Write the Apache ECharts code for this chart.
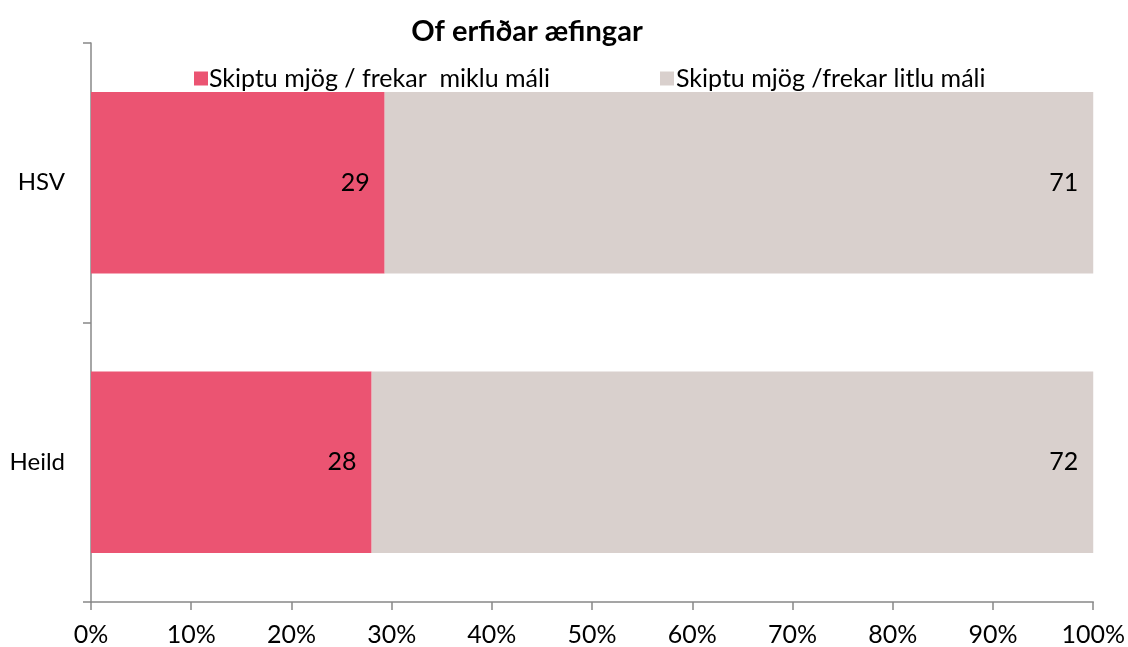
<!DOCTYPE html>
<html>
<head>
<meta charset="utf-8">
<script src="https://cdn.jsdelivr.net/npm/echarts@6/dist/echarts.min.js"></script>
<style>
  html, body { margin: 0; padding: 0; background: #fff; }
  #main { width: 1128px; height: 647px; }
</style>
</head>
<body>
<div id="main"></div>
<script>
const categories = ['HSV', 'Heild'];
const seriesNames = ['Skiptu mjög / frekar  miklu máli', 'Skiptu mjög /frekar litlu máli'];
const miklu = [29.3, 28.0];
const litlu = [70.7, 72.0];

const font = 'Lato, "Open Sans", sans-serif';
const chart = echarts.init(document.getElementById('main'));

const label = {
  show: true,
  position: 'insideRight',
  distance: 15,
  color: '#000',
  fontSize: 25,
  fontFamily: font,
  formatter: p => Math.round(p.value)
};

chart.setOption({
  animation: false,
  title: {
    text: 'Of erfiðar æfingar',
    left: 522,
    textAlign: 'center',
    top: 12,
    textStyle: { fontSize: 29, fontWeight: 'bold', fontFamily: font, color: '#000' }
  },
  legend: [
    {
      data: [seriesNames[0]],
      left: 189, top: 61,
      itemWidth: 14, itemHeight: 14, icon: 'rect',
      textStyle: { fontSize: 25, fontFamily: font, color: '#000', padding: [0, 0, 0, -4] }
    },
    {
      data: [seriesNames[1]],
      left: 655, top: 61,
      itemWidth: 14, itemHeight: 14, icon: 'rect',
      textStyle: { fontSize: 25, fontFamily: font, color: '#000', padding: [0, 0, 0, -3] }
    }
  ],
  grid: { left: 91, right: 34, top: 43, bottom: 45, containLabel: false },
  xAxis: {
    type: 'value',
    min: 0, max: 100, interval: 10,
    axisLine: { show: true, lineStyle: { color: '#888', width: 1.5 } },
    axisTick: { show: true, length: 8, lineStyle: { color: '#888', width: 1.5 } },
    axisLabel: { formatter: '{value}%', fontSize: 25, fontFamily: font, color: '#000', margin: 20 },
    splitLine: { show: false }
  },
  yAxis: {
    type: 'category',
    data: categories,
    inverse: true,
    axisLine: { show: true, lineStyle: { color: '#888', width: 1.5 } },
    axisTick: { show: true, length: 8, lineStyle: { color: '#888', width: 1.5 } },
    axisLabel: { fontSize: 24, fontFamily: font, color: '#000', margin: 26 }
  },
  series: [
    {
      name: seriesNames[0], type: 'bar', stack: 'a', data: miklu,
      barWidth: '65%', itemStyle: { color: '#EB5472' }, label: label
    },
    {
      name: seriesNames[1], type: 'bar', stack: 'a', data: litlu,
      barWidth: '65%', itemStyle: { color: '#D9D0CD' }, label: label
    }
  ]
});
</script>
</body>
</html>
